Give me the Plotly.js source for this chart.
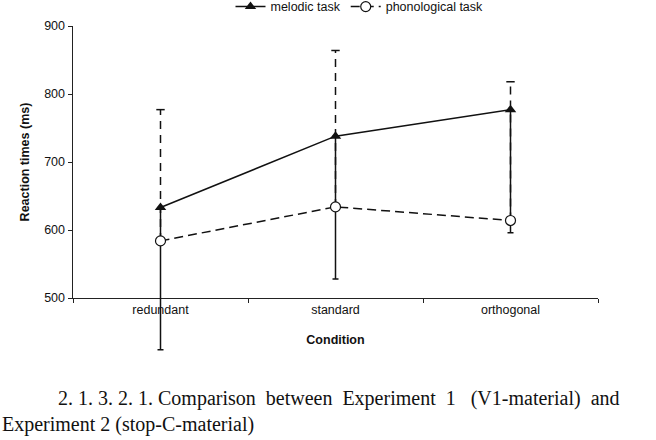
<!DOCTYPE html>
<html>
<head>
<meta charset="utf-8">
<script src="https://cdn.plot.ly/plotly-3.0.1.min.js"></script>
<style>html,body{margin:0;padding:0;background:#fff;}#chart{width:656px;height:440px;}</style>
</head>
<body>
<div id="chart"></div>
<script>
const categories = ['redundant', 'standard', 'orthogonal'];
const melodic = [633, 738, 777];
const melodicErrMinus = [209, 210, 181];
const phonological = [584, 634, 614];
const phonologicalErrPlus = [193, 230, 204];
const yRange = [500, 900];
const yTickVals = [500, 600, 700, 800, 900];
const legendNames = ['melodic task', 'phonological task'];
const captionLine1 = '2. 1. 3. 2. 1. Comparison  between  Experiment  1   (V1-material)  and';
const captionLine2 = 'Experiment 2 (stop-C-material)';

const sans = 'Liberation Sans, Arial, sans-serif';
const serif = 'Liberation Serif, Times New Roman, serif';

// The main y axis occupies the upper part of the plotting box; a hidden
// second y axis with the same scale spans the whole box so that the long
// error bar can extend below the x axis, as in the original figure.
const yDomainLow = 0.18563;
const y2Range = [yRange[1] - (yRange[1] - yRange[0]) / (1 - yDomainLow), yRange[1]];

// dashed plus error bars for phonological series
const ebX = [], ebY = [];
categories.forEach((c, i) => {
  ebX.push(c, c, null);
  ebY.push(phonological[i], phonological[i] + phonologicalErrPlus[i], null);
});
const capY = phonological.map((v, i) => v + phonologicalErrPlus[i]);

const data = [
  {
    x: ebX, y: ebY, type: 'scatter', mode: 'lines', showlegend: false, hoverinfo: 'skip',
    xaxis: 'x', yaxis: 'y',
    line: {color: '#111', width: 1.5, dash: '8px,6px'}
  },
  {
    x: categories, y: capY, type: 'scatter', mode: 'markers', showlegend: false, hoverinfo: 'skip',
    xaxis: 'x', yaxis: 'y',
    marker: {symbol: 'line-ew', size: 6, color: '#111', line: {color: '#111', width: 1.5}},
    cliponaxis: false
  },
  {
    x: categories, y: melodic, name: legendNames[0], type: 'scatter', mode: 'lines+markers',
    xaxis: 'x', yaxis: 'y2',
    line: {color: '#111', width: 1.5},
    marker: {symbol: 'triangle-up', size: 10, color: '#111'},
    error_y: {type: 'data', symmetric: false, array: [0, 0, 0], arrayminus: melodicErrMinus,
              color: '#111', thickness: 1.5, width: 3},
    cliponaxis: false
  },
  {
    x: categories, y: phonological, name: legendNames[1], type: 'scatter', mode: 'lines+markers',
    xaxis: 'x', yaxis: 'y2',
    line: {color: '#111', width: 1.5, dash: '9px,5px'},
    marker: {symbol: 'circle', size: 10, color: '#fff', line: {color: '#111', width: 1.2}},
    cliponaxis: false
  }
];

const layout = {
  width: 656, height: 440,
  margin: {l: 73, r: 58, t: 26, b: 80, autoexpand: false},
  paper_bgcolor: '#fff', plot_bgcolor: 'rgba(0,0,0,0)',
  font: {family: sans, size: 12.5, color: '#111'},
  showlegend: true,
  legend: {orientation: 'h', x: 0.3, y: 1.057, xanchor: 'left', yanchor: 'middle',
           font: {family: sans, size: 12.5, color: '#111'}, bgcolor: 'rgba(0,0,0,0)'},
  xaxis: {
    type: 'category', range: [-0.5, 2.5], showgrid: false, zeroline: false, anchor: 'y',
    showline: true, linecolor: '#222', linewidth: 1.5,
    ticks: 'outside', tickson: 'boundaries', ticklen: 4, tickcolor: '#222', tickwidth: 1,
    tickfont: {family: sans, size: 12.5, color: '#111'},
    title: {text: '<b>Condition</b>', font: {family: sans, size: 12.5, color: '#111'}, standoff: 18},
    automargin: false, fixedrange: true
  },
  yaxis: {
    domain: [yDomainLow, 1], anchor: 'x',
    range: yRange, tickvals: yTickVals, showgrid: false, zeroline: false,
    showline: true, linecolor: '#222', linewidth: 1.5,
    ticks: 'outside', ticklen: 4, tickcolor: '#222', tickwidth: 1,
    tickfont: {family: sans, size: 12.5, color: '#111'},
    title: {text: '<b>Reaction times (ms)</b>', font: {family: sans, size: 12.5, color: '#111'}, standoff: 12},
    automargin: false, fixedrange: true
  },
  yaxis2: {
    domain: [0, 1], anchor: 'x', range: y2Range, visible: false,
    showgrid: false, zeroline: false, fixedrange: true
  },
  annotations: [
    {xref: 'paper', yref: 'paper', x: -0.0324, y: -0.1138, xanchor: 'left', yanchor: 'middle',
     text: captionLine1, showarrow: false, font: {family: serif, size: 20, color: '#111'}},
    {xref: 'paper', yref: 'paper', x: -0.139, y: -0.1946, xanchor: 'left', yanchor: 'middle',
     text: captionLine2, showarrow: false, font: {family: serif, size: 20, color: '#111'}}
  ]
};

Plotly.newPlot('chart', data, layout, {displayModeBar: false, staticPlot: true});
</script>
</body>
</html>
